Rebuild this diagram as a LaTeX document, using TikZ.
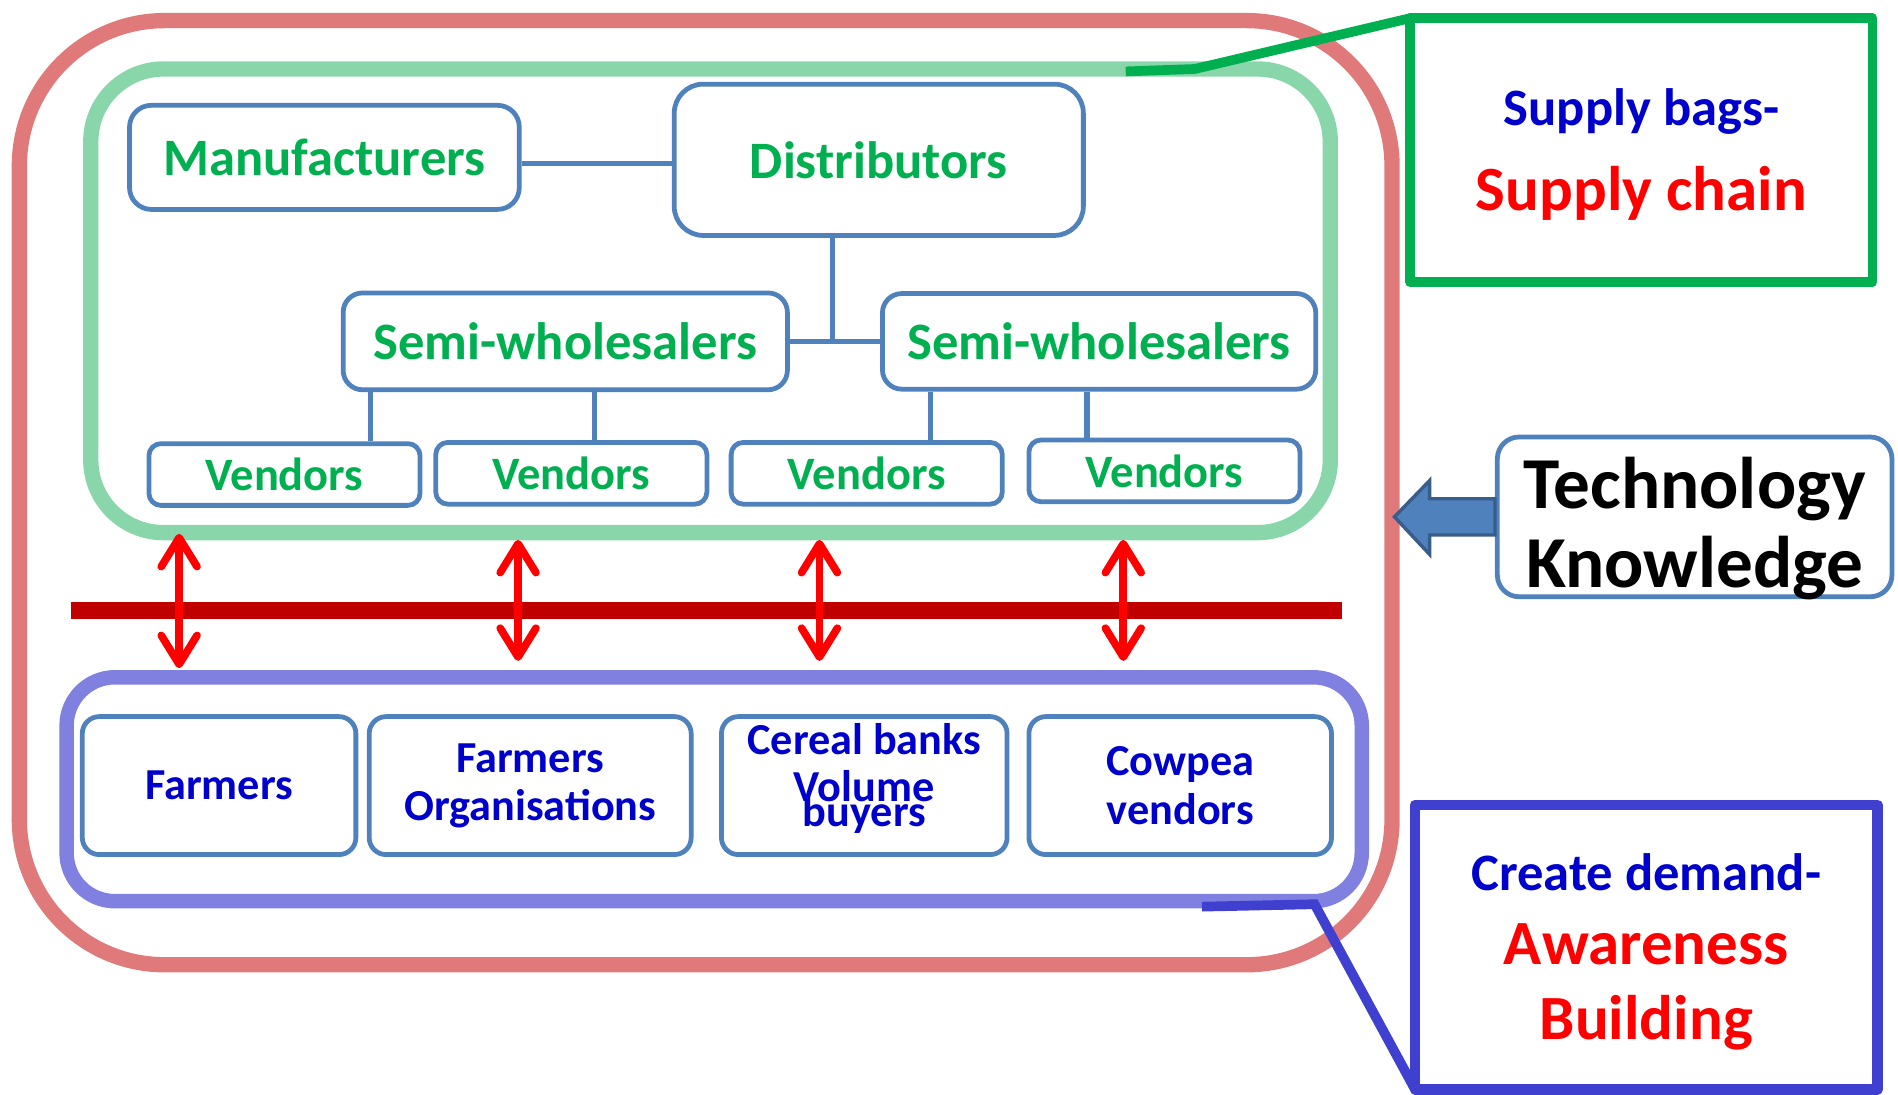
\documentclass[tikz,border=0pt]{standalone}
\usepackage{fontspec}
\setmainfont{Carlito}
\usetikzlibrary{arrows.meta}

\def\pix{0.025cm}
\definecolor{field edge}{RGB}{224,122,122}
\definecolor{supply edge}{RGB}{136,214,170}
\definecolor{demand edge}{RGB}{128,128,224}
\definecolor{box edge}{RGB}{79,129,189}
\definecolor{label green}{RGB}{0,176,80}
\definecolor{label blue}{RGB}{0,0,204}
\definecolor{label red}{RGB}{255,0,0}
\definecolor{bar red}{RGB}{192,0,0}
\definecolor{note blue}{RGB}{64,64,208}
\definecolor{arrow edge}{RGB}{56,93,138}

\tikzset{
  dims/.style 2 args={minimum width=#1*\pix, minimum height=#2*\pix},
  frame/.style={draw=#1, line width=9pt, inner sep=0pt},
  box/.style={draw=box edge, line width=2.8pt, fill=white, inner sep=0pt, align=center, rounded corners=#1*\pix},
  box/.default=16,
  supply/.style={text=label green, font=\bfseries\fontsize{30.9pt}{36pt}\selectfont},
  vendor/.style={text=label green, font=\bfseries\fontsize{27.3pt}{32pt}\selectfont},
  demand/.style={text=label blue, font=\bfseries\fontsize{26pt}{28.4pt}\selectfont},
  link/.style={draw=box edge, line width=3pt},
  link arrow/.style={draw=red, line width=4.5pt, {Straight Barb[length=17pt,width=21pt,round]}-{Straight Barb[length=17pt,width=21pt,round]}},
  note/.style={line width=#1, fill=white, inner sep=0pt, outer sep=0pt, align=center, line join=round}
}

\begin{document}
\begin{tikzpicture}[x=\pix, y=-\pix]
  \useasboundingbox (0,0) rectangle (1568,904);

  % outer field and the two groups
  \node[frame=field edge, dims={1134}{780}, rounded corners=120*\pix] (field) at (583,407) {};
  \node[frame=supply edge, dims={1024}{383}, rounded corners=60*\pix] (grp) at (587,248.5) {};
  \node[frame=demand edge, line width=8.5pt, dims={1070}{185}, rounded corners=40*\pix] (users) at (590,652) {};

  % bar and the links across it
  \coordinate (barl) at (59,504);
  \coordinate (barr) at (1109,504);
  \draw[bar red, line width=10pt] (barl) -- (barr);
  \foreach \i/\x/\t/\b in {1/148/441/552, 2/428/446/546, 3/677/446/546, 4/928/446/546}{
    \coordinate (up\i) at (\x,\t);
    \coordinate (dn\i) at (\x,\b);
    \draw[link arrow] (up\i) -- (dn\i);
  }

  % supply chain
  \node[box=18, dims={322}{86}, supply] (manu) at (268,130) {Manufacturers};
  \node[box=24, dims={338}{125}, supply] (dist) at (726,132) {Distributors};
  \node[box, dims={367}{80}, supply] (swl) at (467,282) {Semi-wholesalers};
  \node[box, dims={358}{79}, supply] (swr) at (908,282) {Semi-wholesalers};
  \foreach \n/\x/\y in {v1/235/392, v2/472/391, v3/716/391, v4/962/389}
    \node[box=10, dims={224}{51}, vendor] (\n) at (\x,\y) {Vendors};

  \coordinate (mlink) at (0,135);
  \coordinate (junc) at (688,282);
  \foreach \n/\x in {t1/306, t2/491, t3/769, t4/898}
    \coordinate (\n) at (\x,0);

  \draw[link] (manu.east |- mlink) -- (dist.west |- mlink);
  \draw[link] (swl) -- (swr);
  \draw[link] (dist.south -| junc) -- (junc);
  \foreach \sw/\v/\t in {swl/v1/t1, swl/v2/t2, swr/v3/t3, swr/v4/t4}
    \draw[link] (\sw.south -| \t) -- (\v.north -| \t);

  % users
  \node[box=14, dims={226}{114}, demand] (farm) at (181,649) {Farmers};
  \node[box=14, dims={266}{114}, demand] (forg) at (438,649) {Farmers\\Organisations};
  \node[box=14, dims={236}{114}, demand, text height=48.6pt, text depth=0pt] (bank) at (714,649)
        {Cereal banks\\[-0.7pt]Volume\\[-13.4pt]buyers};
  \node[box=14, dims={250}{114}, demand] (cow) at (975,649) {Cowpea\\vendors};

  % notes on the right
  \node[note=5.7pt, draw=label green, dims={382}{218}, text=label red, text height=70.7pt, text depth=0pt,
        font=\bfseries\fontsize{37pt}{49.8pt}\selectfont] (sbox) at (1356,124)
        {{\fontsize{30.9pt}{49.8pt}\selectfont\color{label blue}Supply bags-}\\Supply chain};
  \node[note=6.4pt, draw=note blue, dims={382}{235}, text=label red, text height=108.8pt, text depth=0pt,
        font=\bfseries\fontsize{37pt}{44pt}\selectfont] (dbox) at (1360,782.5)
        {{\fontsize{30.9pt}{44pt}\selectfont\color{label blue}Create demand-}\\Awareness\\Building};
  \node[box=18, dims={326}{132}, text height=82.5pt, text depth=0pt,
        font=\bfseries\fontsize{43pt}{46.2pt}\selectfont] (tech) at (1400,427)
        {Technology\\Knowledge};

  \filldraw[fill=box edge, draw=arrow edge, line width=2pt]
    (tech.west) ++(0,-15) -- ++(-54,0) -- ++(0,-15) -- ++(-29,30) -- ++(29,31) -- ++(0,-16) -- ++(54,0) -- cycle;

  % callout lines
  \coordinate (gtap) at (930,59);
  \coordinate (gbend) at (987,57);
  \draw[label green, line width=5.7pt] (gtap) -- (gbend) -- (sbox.north west);
  \coordinate (btap) at (993,749);
  \coordinate (bbend) at (1086,747);
  \draw[note blue, line width=5.7pt] (btap) -- (bbend) -- (dbox.south west);
\end{tikzpicture}
\end{document}
